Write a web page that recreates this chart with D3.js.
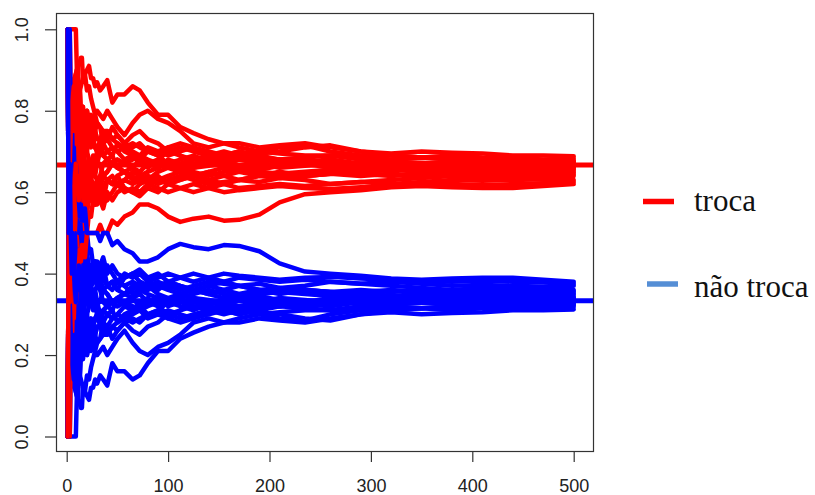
<!DOCTYPE html>
<html>
<head>
<meta charset="utf-8">
<script src="https://cdn.jsdelivr.net/npm/d3@7"></script>
<style>
  body { margin: 0; background: #fff; }
</style>
</head>
<body>
<svg id="chart" width="815" height="495"></svg>
<script>
// Trial numbers at which each running proportion is recorded
const trials = [1,2,3,4,5,6,7,8,9,10,11,12,13,14,15,16,17,18,20,22,24,26,28,30,33,36,40,45,50,57,65,72,80,90,100,112,125,140,155,170,190,210,235,260,290,320,350,380,410,440,470,500];

// Running share of wins when the player switches ("troca"), one row per simulation
const troca = [
  [1,1,1,.75,.8,.83,.86,.88,.89,.9,.91,.92,.92,.93,.93,.88,.88,.89,.9,.91,.88,.88,.86,.87,.85,.86,.875,.82,.84, .84,.86,.85,.82,.79,.79,.76,.745,.73,.72,.72,.71,.715,.72,.71,.70,.695,.70,.697,.695,.69,.69,.688],
  [1,1,.67,.75,.8,.83,.86,.88,.89,.9,.82,.83,.85,.86,.87,.88,.88,.89,.85,.86,.83,.81,.79,.8,.79,.78,.8,.78,.76, .74,.77,.79,.8,.78,.77,.75,.72,.71,.72,.71,.70,.71,.715,.70,.69,.69,.685,.69,.685,.684,.68,.682],
  [1,1,.67,.75,.8,.67,.71,.75,.78,.8,.73,.75,.77,.79,.8,.75,.76,.78,.75,.73,.75,.73,.75,.77,.76,.72,.75,.73,.74, .72,.71,.72,.70,.70,.69,.70,.71,.69,.70,.69,.70,.695,.69,.69,.685,.68,.685,.68,.678,.68,.675,.678],
  [0,.5,.67,.75,.6,.67,.71,.75,.67,.7,.73,.67,.69,.71,.73,.69,.71,.72,.7,.68,.67,.65,.68,.67,.7,.69,.7,.71,.7, .68,.69,.67,.66,.68,.70,.69,.67,.68,.69,.70,.685,.68,.675,.68,.67,.675,.672,.67,.675,.67,.672,.674],
  [1,.5,.33,.5,.6,.67,.71,.63,.67,.7,.73,.75,.69,.71,.67,.63,.65,.61,.65,.64,.63,.62,.61,.6,.61,.64,.65,.67,.68, .67,.66,.68,.70,.69,.67,.68,.69,.675,.67,.68,.67,.66,.665,.67,.672,.668,.67,.675,.67,.672,.668,.671],
  [1,1,1,.75,.8,.83,.71,.75,.67,.7,.64,.67,.62,.64,.6,.63,.59,.61,.6,.64,.63,.65,.64,.63,.64,.67,.68,.69,.66, .65,.63,.64,.65,.66,.67,.65,.66,.67,.68,.665,.66,.67,.675,.67,.668,.665,.67,.666,.664,.668,.67,.668],
  [0,.5,.67,.5,.6,.5,.57,.63,.56,.6,.64,.58,.62,.57,.6,.63,.65,.67,.65,.68,.67,.69,.68,.7,.7,.72,.7,.69,.72, .7,.69,.68,.67,.66,.68,.67,.66,.665,.67,.66,.655,.665,.67,.66,.66,.665,.668,.662,.665,.66,.663,.665],
  [1,.5,.67,.75,.8,.67,.71,.63,.67,.6,.64,.67,.69,.64,.67,.69,.71,.72,.7,.73,.75,.77,.75,.73,.73,.72,.73,.71,.7, .71,.7,.69,.71,.7,.71,.69,.68,.69,.68,.69,.68,.675,.68,.67,.665,.67,.665,.66,.662,.665,.66,.662],
  [0,0,.33,.5,.6,.5,.57,.5,.56,.6,.55,.58,.54,.57,.53,.56,.53,.56,.6,.59,.58,.62,.61,.63,.61,.61,.63,.64,.62, .63,.65,.64,.62,.63,.64,.65,.64,.63,.64,.65,.64,.645,.65,.655,.65,.655,.66,.655,.66,.655,.657,.659],
  [1,1,.67,.75,.8,.83,.86,.88,.78,.8,.82,.83,.85,.79,.8,.81,.76,.78,.8,.77,.75,.73,.71,.7,.7,.69,.68,.67,.66, .67,.68,.69,.68,.67,.66,.67,.68,.685,.69,.68,.675,.68,.67,.665,.66,.655,.66,.658,.655,.652,.655,.656],
  [1,.5,.67,.5,.6,.67,.71,.75,.78,.8,.73,.75,.77,.71,.73,.69,.71,.67,.65,.64,.67,.65,.64,.67,.67,.64,.63,.62,.64, .65,.64,.62,.63,.64,.62,.63,.64,.65,.64,.63,.64,.65,.64,.645,.65,.655,.65,.648,.652,.65,.653,.652],
  [0,.5,.33,.25,.4,.5,.43,.5,.56,.5,.55,.5,.54,.57,.6,.56,.59,.61,.6,.64,.63,.62,.61,.6,.64,.64,.65,.67,.68, .67,.66,.65,.67,.68,.67,.66,.65,.64,.65,.655,.645,.64,.645,.65,.645,.64,.645,.648,.645,.65,.646,.648],
  [1,1,1,1,1,1,1,1,1,.9,.91,.83,.85,.79,.8,.81,.76,.78,.75,.73,.75,.77,.75,.73,.73,.69,.68,.67,.66, .65,.66,.64,.63,.62,.63,.64,.63,.62,.625,.63,.64,.635,.64,.645,.64,.645,.64,.642,.64,.645,.643,.644],
  [0,.5,.33,.5,.4,.33,.43,.38,.33,.4,.45,.5,.46,.5,.53,.5,.53,.5,.5,.55,.54,.58,.57,.6,.61,.58,.63,.62,.64, .61,.6,.62,.63,.65,.66,.65,.64,.63,.62,.63,.625,.635,.63,.62,.625,.63,.635,.64,.635,.638,.64,.64],
  [1,1,.67,.75,.6,.67,.57,.63,.67,.7,.64,.67,.69,.71,.73,.75,.71,.72,.75,.73,.71,.73,.71,.7,.73,.75,.73,.76,.74, .72,.74,.75,.73,.72,.7,.71,.70,.69,.685,.69,.695,.70,.71,.715,.70,.69,.685,.68,.67,.665,.66,.663],
  [0,.5,.67,.5,.4,.5,.57,.5,.56,.6,.64,.67,.62,.64,.6,.56,.59,.56,.55,.59,.58,.62,.57,.57,.58,.61,.58,.6,.62, .6,.61,.6,.62,.61,.6,.61,.62,.61,.62,.61,.615,.62,.615,.62,.625,.62,.625,.63,.628,.63,.632,.63],
  [1,.5,.67,.75,.8,.67,.57,.63,.56,.6,.55,.58,.54,.57,.53,.56,.53,.56,.55,.59,.58,.58,.57,.6,.58,.56,.6,.58,.6, .61,.6,.59,.61,.6,.62,.61,.6,.61,.6,.605,.61,.615,.61,.608,.612,.615,.618,.62,.617,.62,.622,.625],
  [0,0,0,.25,.2,.33,.29,.38,.33,.4,.36,.42,.46,.43,.47,.44,.47,.44,.5,.5,.5,.5,.5,.5,.52,.5,.5,.53,.52, .54,.55,.57,.57,.56,.54,.527,.535,.54,.53,.532,.545,.575,.595,.60,.605,.612,.615,.612,.61,.61,.615,.62],
  [1,.5,.67,.75,.8,.83,.86,.75,.78,.8,.82,.75,.77,.79,.73,.75,.76,.78,.8,.77,.79,.77,.79,.77,.76,.75,.75,.73,.72, .71,.72,.71,.70,.69,.71,.72,.71,.70,.69,.70,.69,.68,.685,.69,.68,.675,.67,.672,.676,.68,.678,.675],
  [0,.5,.33,.5,.6,.5,.57,.63,.67,.6,.64,.58,.62,.64,.67,.63,.65,.61,.6,.59,.63,.62,.61,.63,.61,.61,.63,.62,.62, .63,.62,.63,.64,.63,.62,.63,.64,.65,.66,.655,.65,.645,.64,.645,.65,.655,.66,.665,.66,.662,.666,.668]
];

// Running share of wins when the player keeps the first door ("não troca")
const naoTroca = [
  [0,0,0,.25,.2,.17,.14,.12,.11,.1,.09,.08,.08,.07,.07,.12,.12,.11,.1,.09,.12,.12,.14,.13,.15,.14,.125,.18,.16, .16,.14,.15,.18,.21,.21,.24,.255,.27,.28,.28,.29,.285,.28,.29,.30,.305,.30,.303,.305,.31,.31,.312],
  [0,0,.33,.25,.2,.17,.14,.12,.11,.1,.18,.17,.15,.14,.13,.12,.12,.11,.15,.14,.17,.19,.21,.2,.21,.22,.2,.22,.24, .26,.23,.21,.2,.22,.23,.25,.28,.29,.28,.29,.30,.29,.285,.30,.31,.31,.315,.31,.315,.316,.32,.318],
  [0,0,.33,.25,.2,.33,.29,.25,.22,.2,.27,.25,.23,.21,.2,.25,.24,.22,.25,.27,.25,.27,.25,.23,.24,.28,.25,.27,.26, .28,.29,.28,.30,.30,.31,.30,.29,.31,.30,.31,.30,.305,.31,.31,.315,.32,.315,.32,.322,.32,.325,.322],
  [1,.5,.33,.25,.4,.33,.29,.25,.33,.3,.27,.33,.31,.29,.27,.31,.29,.28,.3,.32,.33,.35,.32,.33,.3,.31,.3,.29,.3, .32,.31,.33,.34,.32,.30,.31,.33,.32,.31,.30,.315,.32,.325,.32,.33,.325,.328,.33,.325,.33,.328,.326],
  [0,.5,.67,.5,.4,.33,.29,.37,.33,.3,.27,.25,.31,.29,.33,.37,.35,.39,.35,.36,.37,.38,.39,.4,.39,.36,.35,.33,.32, .33,.34,.32,.30,.31,.33,.32,.31,.325,.33,.32,.33,.34,.335,.33,.328,.332,.33,.325,.33,.328,.332,.329],
  [0,0,0,.25,.2,.17,.29,.25,.33,.3,.36,.33,.38,.36,.4,.37,.41,.39,.4,.36,.37,.35,.36,.37,.36,.33,.32,.31,.34, .35,.37,.36,.35,.34,.33,.35,.34,.33,.32,.335,.34,.33,.325,.33,.332,.335,.33,.334,.336,.332,.33,.332],
  [1,.5,.33,.5,.4,.5,.43,.37,.44,.4,.36,.42,.38,.43,.4,.37,.35,.33,.35,.32,.33,.31,.32,.3,.3,.28,.3,.31,.28, .3,.31,.32,.33,.34,.32,.33,.34,.335,.33,.34,.345,.335,.33,.34,.34,.335,.332,.338,.335,.34,.337,.335],
  [0,.5,.33,.25,.2,.33,.29,.37,.33,.4,.36,.33,.31,.36,.33,.31,.29,.28,.3,.27,.25,.23,.25,.27,.27,.28,.27,.29,.3, .29,.3,.31,.29,.3,.29,.31,.32,.31,.32,.31,.32,.325,.32,.33,.335,.33,.335,.34,.338,.335,.34,.338],
  [1,1,.67,.5,.4,.5,.43,.5,.44,.4,.45,.42,.46,.43,.47,.44,.47,.44,.4,.41,.42,.38,.39,.37,.39,.39,.37,.36,.38, .37,.35,.36,.38,.37,.36,.35,.36,.37,.36,.35,.36,.355,.35,.345,.35,.345,.34,.345,.34,.345,.343,.341],
  [0,0,.33,.25,.2,.17,.14,.12,.22,.2,.18,.17,.15,.21,.2,.19,.24,.22,.2,.23,.25,.27,.29,.3,.3,.31,.32,.33,.34, .33,.32,.31,.32,.33,.34,.33,.32,.315,.31,.32,.325,.32,.33,.335,.34,.345,.34,.342,.345,.348,.345,.344],
  [0,.5,.33,.5,.4,.33,.29,.25,.22,.2,.27,.25,.23,.29,.27,.31,.29,.33,.35,.36,.33,.35,.36,.33,.33,.36,.37,.38,.36, .35,.36,.38,.37,.36,.38,.37,.36,.35,.36,.37,.36,.35,.36,.355,.35,.345,.35,.352,.348,.35,.347,.348],
  [1,.5,.67,.75,.6,.5,.57,.5,.44,.5,.45,.5,.46,.43,.4,.44,.41,.39,.4,.36,.37,.38,.39,.4,.36,.36,.35,.33,.32, .33,.34,.35,.33,.32,.33,.34,.35,.36,.35,.345,.355,.36,.355,.35,.355,.36,.355,.352,.355,.35,.354,.352],
  [0,0,0,0,0,0,0,0,0,.1,.09,.17,.15,.21,.2,.19,.24,.22,.25,.27,.25,.23,.25,.27,.27,.31,.32,.33,.34, .35,.34,.36,.37,.38,.37,.36,.37,.38,.375,.37,.36,.365,.36,.355,.36,.355,.36,.358,.36,.355,.357,.356],
  [1,.5,.67,.5,.6,.67,.57,.62,.67,.6,.55,.5,.54,.5,.47,.5,.47,.5,.5,.45,.46,.42,.43,.4,.39,.42,.37,.38,.36, .39,.4,.38,.37,.35,.34,.35,.36,.37,.38,.37,.375,.365,.37,.38,.375,.37,.365,.36,.365,.362,.36,.36],
  [0,0,.33,.25,.4,.33,.43,.37,.33,.3,.36,.33,.31,.29,.27,.25,.29,.28,.25,.27,.29,.27,.29,.3,.27,.25,.27,.24,.26, .28,.26,.25,.27,.28,.3,.29,.30,.31,.315,.31,.305,.30,.29,.285,.30,.31,.315,.32,.33,.335,.34,.337],
  [1,.5,.33,.5,.6,.5,.43,.5,.44,.4,.36,.33,.38,.36,.4,.44,.41,.44,.45,.41,.42,.38,.43,.43,.42,.39,.42,.4,.38, .4,.39,.4,.38,.39,.4,.39,.38,.39,.38,.39,.385,.38,.385,.38,.375,.38,.375,.37,.372,.37,.368,.37],
  [0,.5,.33,.25,.2,.33,.43,.37,.44,.4,.45,.42,.46,.43,.47,.44,.47,.44,.45,.41,.42,.42,.43,.4,.42,.44,.4,.42,.4, .39,.4,.41,.39,.4,.38,.39,.4,.39,.4,.395,.39,.385,.39,.392,.388,.385,.382,.38,.383,.38,.378,.375],
  [1,1,1,.75,.8,.67,.71,.62,.67,.6,.64,.58,.54,.57,.53,.56,.53,.56,.5,.5,.5,.5,.5,.5,.48,.5,.5,.47,.48, .46,.45,.43,.43,.44,.46,.473,.465,.46,.47,.468,.455,.425,.405,.40,.395,.388,.385,.388,.39,.39,.385,.38],
  [0,.5,.33,.25,.2,.17,.14,.25,.22,.2,.18,.25,.23,.21,.27,.25,.24,.22,.2,.23,.21,.23,.21,.23,.24,.25,.25,.27,.28, .29,.28,.29,.30,.31,.29,.28,.29,.30,.31,.30,.31,.32,.315,.31,.32,.325,.33,.328,.324,.32,.322,.325],
  [1,.5,.67,.5,.4,.5,.43,.37,.33,.4,.36,.42,.38,.36,.33,.37,.35,.39,.4,.41,.37,.38,.39,.37,.39,.39,.37,.38,.38, .37,.38,.37,.36,.37,.38,.37,.36,.35,.34,.345,.35,.355,.36,.355,.35,.345,.34,.335,.34,.338,.334,.332]
];

// Theoretical win probabilities for each strategy
const referenceLevels = [2 / 3, 1 / 3];

const xTicks = [0, 100, 200, 300, 400, 500];
const yTicks = [0, 0.2, 0.4, 0.6, 0.8, 1.0];
const legendLabels = ["troca", "não troca"];

const RED = "#ff0000";
const BLUE = "#0000ff";
const LEGEND_BLUE = "#558ed5";
const AXIS_FONT = "'Liberation Sans', Arial, sans-serif";
const LEGEND_FONT = "'Liberation Serif', 'Times New Roman', serif";

const svg = d3.select("#chart");
const box = { left: 56, top: 13, right: 594, bottom: 452 };

const x = d3.scaleLinear().domain([0, 500]).range([66.7, 573.7]);
const y = d3.scaleLinear().domain([0, 1]).range([436.5, 29.3]);

// Horizontal reference lines across the whole panel, drawn underneath the runs
svg.append("g")
  .selectAll("line")
  .data(referenceLevels)
  .join("line")
  .attr("x1", box.left)
  .attr("x2", box.right)
  .attr("y1", d => y(d))
  .attr("y2", d => y(d))
  .attr("stroke", (d, i) => i === 0 ? RED : BLUE)
  .attr("stroke-width", 5);

const line = d3.line()
  .x((d, i) => x(trials[i]))
  .y(d => y(d));

// One switching run, then its matching staying run, for every simulation
const runs = svg.append("g")
  .attr("fill", "none")
  .attr("stroke-width", 4.5)
  .attr("stroke-linejoin", "round")
  .attr("stroke-linecap", "round");

troca.forEach((row, i) => {
  runs.append("path").attr("d", line(row)).attr("stroke", RED);
  runs.append("path").attr("d", line(naoTroca[i])).attr("stroke", BLUE);
});

// Panel frame
svg.append("rect")
  .attr("x", box.left + 0.5)
  .attr("y", box.top + 0.5)
  .attr("width", box.right - box.left - 1)
  .attr("height", box.bottom - box.top - 1)
  .attr("fill", "none")
  .attr("stroke", "#333")
  .attr("stroke-width", 1.2);

// Left axis with labels turned sideways
const gY = svg.append("g")
  .attr("transform", `translate(${box.left},0)`)
  .call(d3.axisLeft(y).tickValues(yTicks).tickFormat(d3.format(".1f")).tickSize(11).tickSizeOuter(0));
gY.select(".domain").remove();
gY.attr("font-family", AXIS_FONT).attr("font-size", 18);
gY.selectAll(".tick line").attr("stroke", "#333").attr("stroke-width", 1.2);
gY.selectAll(".tick text")
  .attr("x", null)
  .attr("dy", null)
  .attr("text-anchor", "middle")
  .attr("fill", "#222")
  .attr("transform", "translate(-28,0) rotate(-90)");

// Bottom axis
const gX = svg.append("g")
  .attr("transform", `translate(0,${box.bottom})`)
  .call(d3.axisBottom(x).tickValues(xTicks).tickFormat(d3.format("d")).tickSize(10).tickSizeOuter(0));
gX.select(".domain").remove();
gX.attr("font-family", AXIS_FONT).attr("font-size", 18);
gX.selectAll(".tick line").attr("stroke", "#333").attr("stroke-width", 1.2);
gX.selectAll(".tick text")
  .attr("y", 40)
  .attr("dy", null)
  .attr("fill", "#222");

// Legend
const legendItems = [
  { label: legendLabels[0], color: RED, x1: 643, x2: 674, ly: 201.5, ty: 211 },
  { label: legendLabels[1], color: LEGEND_BLUE, x1: 647, x2: 678, ly: 284, ty: 297 }
];
const legend = svg.append("g");
legendItems.forEach(item => {
  legend.append("line")
    .attr("x1", item.x1).attr("x2", item.x2)
    .attr("y1", item.ly).attr("y2", item.ly)
    .attr("stroke", item.color)
    .attr("stroke-width", 5.5);
  legend.append("text")
    .attr("x", 694)
    .attr("y", item.ty)
    .attr("font-family", LEGEND_FONT)
    .attr("font-size", 31)
    .attr("fill", "#111")
    .text(item.label);
});
</script>
</body>
</html>
